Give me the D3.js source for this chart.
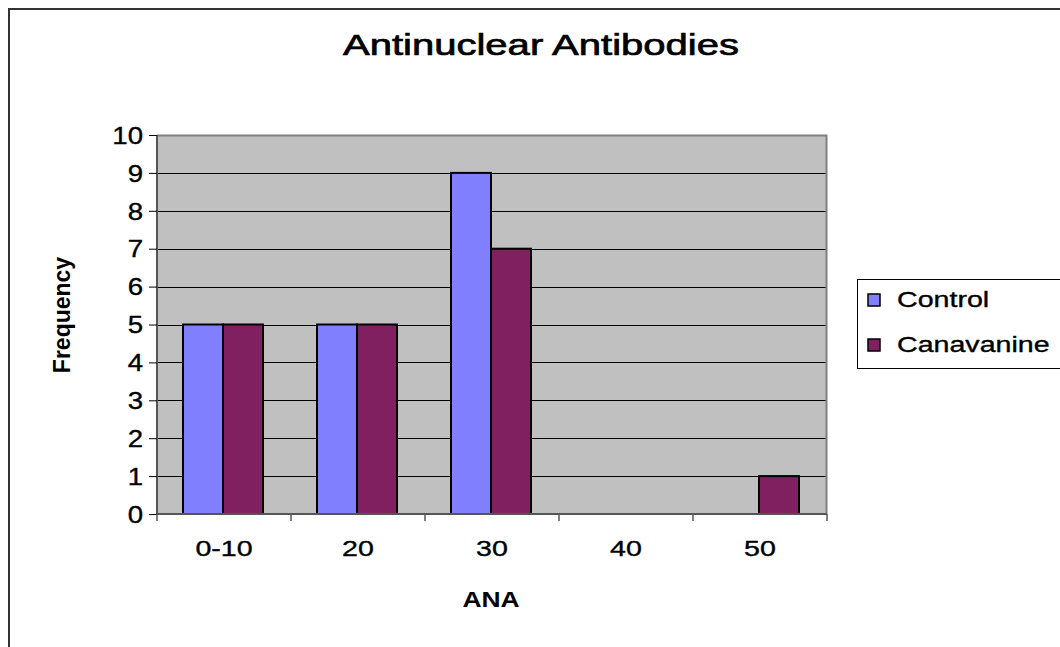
<!DOCTYPE html>
<html>
<head>
<meta charset="utf-8">
<script src="https://cdn.jsdelivr.net/npm/d3@7"></script>
<style>
  body { margin: 0; background: #fff; }
  text { font-family: "Liberation Sans", Arial, sans-serif; fill: #000; stroke: #000; stroke-width: 0.35px; }
</style>
</head>
<body>
<div id="chart"></div>
<script>
var categories = ["0-10", "20", "30", "40", "50"];
var seriesNames = ["Control", "Canavanine"];
var control = [5, 5, 9, 0, 0];
var canavanine = [5, 5, 7, 0, 1];
var yTicks = [0, 1, 2, 3, 4, 5, 6, 7, 8, 9, 10];
var colors = ["#8080ff", "#802060"];

var W = 1060, H = 647;
var margin = {top: 135, left: 157};
var width = 670, height = 379;

// the original text is drawn wider than normal, so widen glyphs by k
function stretch(sel, k) {
  sel.each(function() {
    var len = this.getComputedTextLength();
    d3.select(this).attr("textLength", len * k).attr("lengthAdjust", "spacingAndGlyphs");
  });
}

var svg = d3.select("#chart").append("svg")
    .attr("width", W)
    .attr("height", H);

// outer chart border (runs off the right/bottom edge)
svg.append("rect")
    .attr("x", 9).attr("y", 9)
    .attr("width", 1200).attr("height", 800)
    .attr("fill", "none")
    .attr("stroke", "#333")
    .attr("stroke-width", 2);

var g = svg.append("g")
    .attr("transform", "translate(" + margin.left + "," + margin.top + ")");

var xScale = d3.scaleBand().domain(categories).range([0, width]);
var xInner = d3.scaleBand().domain(seriesNames).range([26, xScale.bandwidth() - 28]);
var yScale = d3.scaleLinear().domain([0, 10]).range([height, 0]);

// plot area
g.append("rect")
    .attr("width", width).attr("height", height)
    .attr("fill", "#c0c0c0");

// gridlines
g.selectAll(".grid").data(yTicks.filter(function(d){ return d > 0 && d < 10; }))
  .enter().append("line")
    .attr("x1", 0).attr("x2", width)
    .attr("y1", function(d){ return Math.round(yScale(d)) + 0.5; })
    .attr("y2", function(d){ return Math.round(yScale(d)) + 0.5; })
    .attr("stroke", "#000").attr("stroke-width", 1);

// plot border top/right
g.append("path")
    .attr("d", "M0,0.5H" + (width - 0.5) + "V" + height)
    .attr("fill", "none").attr("stroke", "#808080").attr("stroke-width", 2);

// bars
var rows = categories.map(function(c, i){ return {cat: c, vals: [control[i], canavanine[i]]}; });
var groups = g.selectAll(".grp").data(rows).enter().append("g")
    .attr("transform", function(d){ return "translate(" + xScale(d.cat) + ",0)"; });

groups.selectAll("rect").data(function(d){
    return d.vals.map(function(v, j){ return {name: seriesNames[j], v: v, j: j}; }).filter(function(e){ return e.v > 0; });
  })
  .enter().append("rect")
    .attr("x", function(d){ return xInner(d.name); })
    .attr("y", function(d){ return yScale(d.v); })
    .attr("width", xInner.bandwidth())
    .attr("height", function(d){ return height - yScale(d.v); })
    .attr("fill", function(d){ return colors[d.j]; })
    .attr("stroke", "#000").attr("stroke-width", 2);

// axes
var yAxis = d3.axisLeft(yScale).tickValues(yTicks).tickSize(8).tickPadding(6).tickFormat(d3.format("d"));
var yG = g.append("g").call(yAxis);
yG.select(".domain").attr("stroke", "#555").attr("stroke-width", 2).attr("d", "M0,0V" + height);
yG.selectAll("text").style("font-size", "23px").attr("dy", "0.36em");
stretch(yG.selectAll("text"), 1.2);

var xAxis = d3.axisBottom(xScale).tickSize(0).tickPadding(26);
var xG = g.append("g").attr("transform", "translate(0," + height + ")").call(xAxis);
xG.select(".domain").attr("stroke", "#555").attr("stroke-width", 2).attr("d", "M0,0H" + width);
xG.selectAll("text").style("font-size", "22px");
stretch(xG.selectAll("text"), 1.3);
xG.selectAll(".bnd").data(categories.concat(["end"])).enter().append("line")
    .attr("x1", function(d, i){ return i * xScale.bandwidth(); })
    .attr("x2", function(d, i){ return i * xScale.bandwidth(); })
    .attr("y1", 0).attr("y2", 7)
    .attr("stroke", "#555").attr("stroke-width", 1.5);

// title and axis labels
svg.append("text")
    .attr("x", 541).attr("y", 55)
    .attr("text-anchor", "middle")
    .attr("textLength", 396).attr("lengthAdjust", "spacingAndGlyphs")
    .style("font-size", "30px").style("stroke-width", "0.7px")
    .text("Antinuclear Antibodies");

svg.append("text")
    .attr("x", 491).attr("y", 607)
    .attr("text-anchor", "middle")
    .style("font-size", "22px").style("font-weight", "bold").style("stroke-width", "0")
    .text("ANA")
    .call(stretch, 1.2);

svg.append("text")
    .attr("transform", "translate(70,315) rotate(-90)")
    .attr("text-anchor", "middle")
    .style("font-size", "23px").style("font-weight", "bold").style("stroke-width", "0")
    .text("Frequency");

// legend
var leg = svg.append("g").attr("transform", "translate(857,279)");
leg.append("rect")
    .attr("x", 0.5).attr("y", 0.5)
    .attr("width", 300).attr("height", 89)
    .attr("fill", "#fff").attr("stroke", "#000").attr("stroke-width", 1);
var items = leg.selectAll(".item").data(seriesNames).enter().append("g")
    .attr("transform", function(d, i){ return "translate(0," + (i * 45) + ")"; });
items.append("rect")
    .attr("x", 11).attr("y", 15)
    .attr("width", 12).attr("height", 12)
    .attr("fill", function(d, i){ return colors[i]; })
    .attr("stroke", "#000").attr("stroke-width", 1.5);
items.append("text")
    .attr("x", 40).attr("y", 28)
    .style("font-size", "22px")
    .text(function(d){ return d; })
    .call(stretch, 1.3);
</script>
</body>
</html>
